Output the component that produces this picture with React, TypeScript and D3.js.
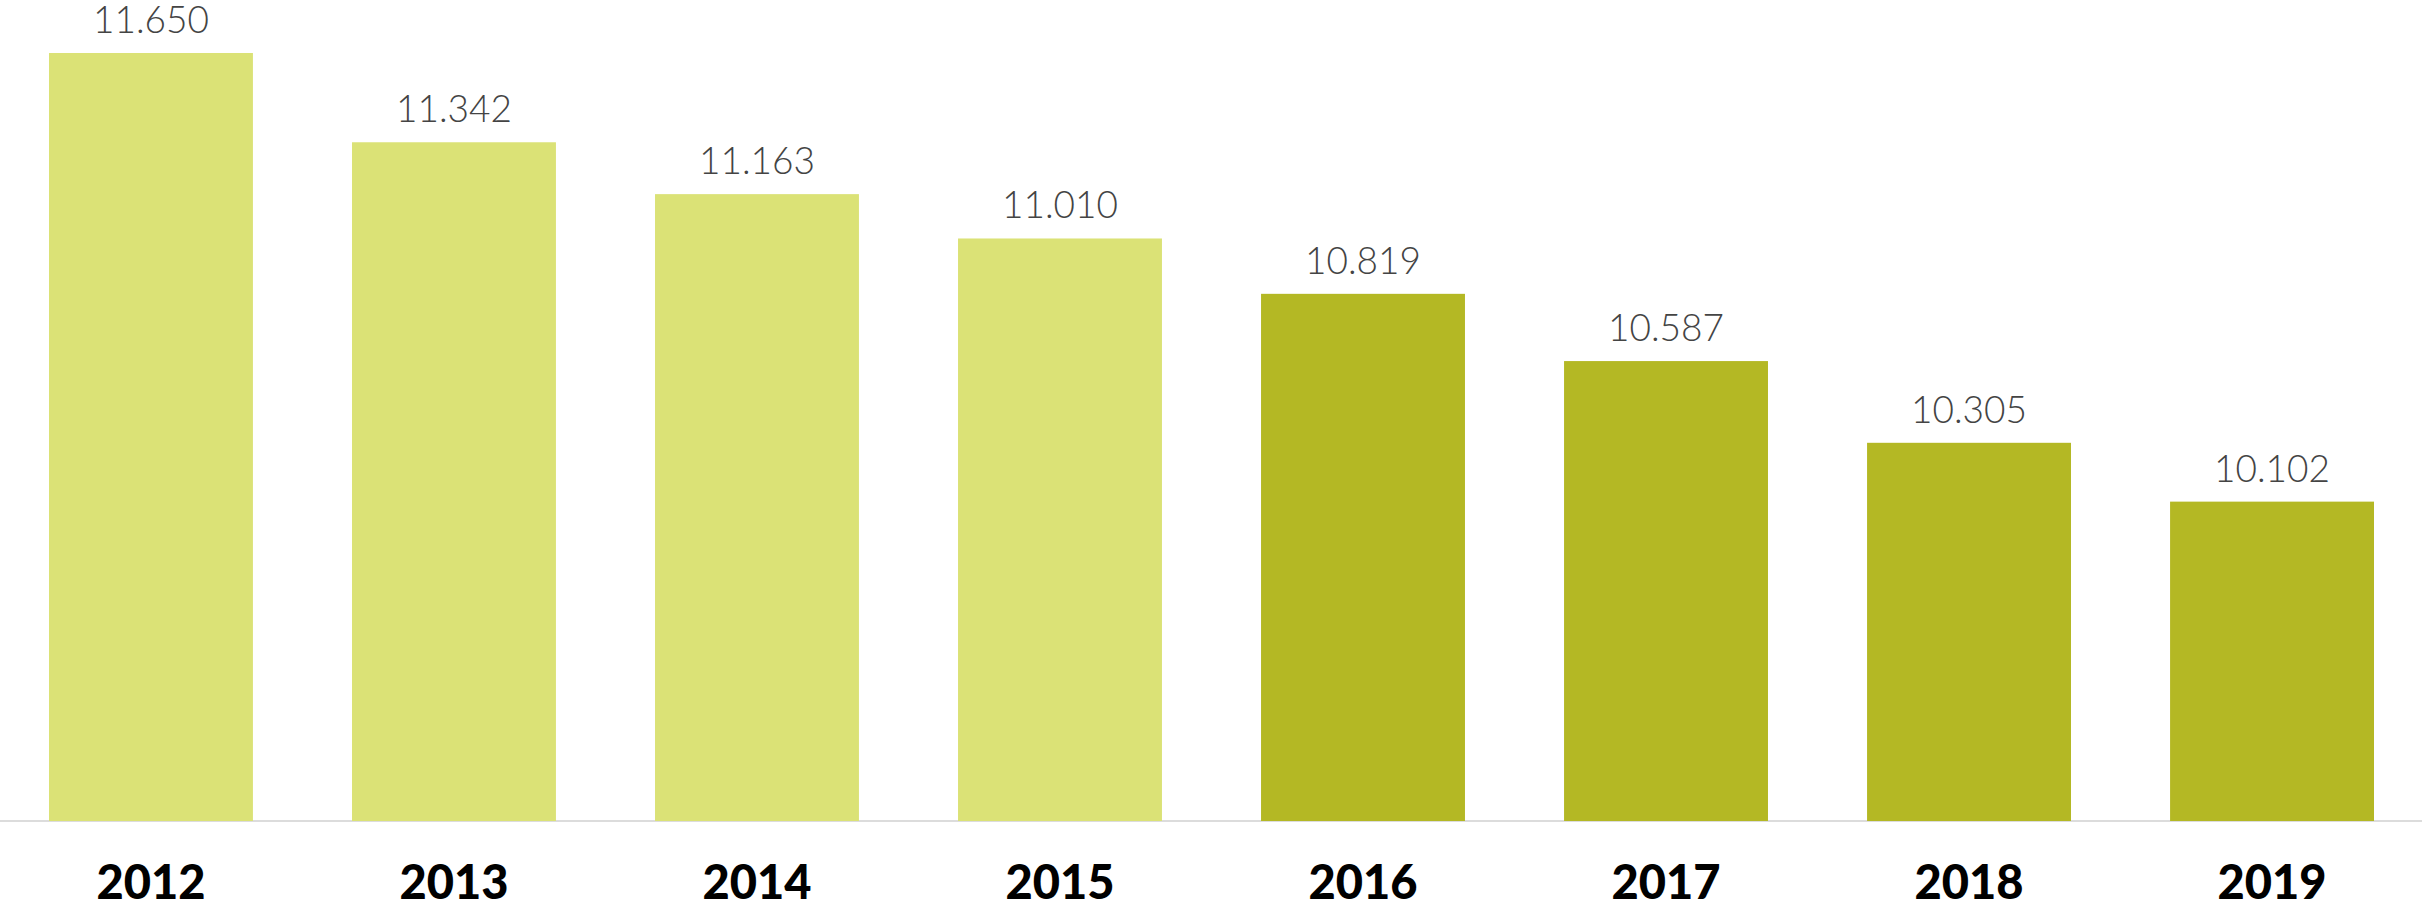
import React, { useEffect, useRef } from 'react';
import * as d3 from 'd3';

const years = ['2012', '2013', '2014', '2015', '2016', '2017', '2018', '2019'];
const values = [11650, 11342, 11163, 11010, 10819, 10587, 10305, 10102];
const valueLabels = ['11.650', '11.342', '11.163', '11.010', '10.819', '10.587', '10.305', '10.102'];
// first four years are drawn lighter
const highlight = [false, false, false, false, true, true, true, true];

const width = 2422;
const height = 908;

const App = () => {
  const ref = useRef<SVGSVGElement | null>(null);

  useEffect(() => {
    if (!ref.current) return;
    const svg = d3.select(ref.current);
    svg.selectAll('*').remove();

    const baseY = 821;

    const x = d3.scaleBand<string>()
      .domain(years)
      .range([49, 2374])
      .paddingInner(0.327)
      .paddingOuter(0);

    const y = d3.scaleLinear()
      .domain([9000, 11650])
      .range([baseY, 53]);

    const data = years.map((yr, i) => ({ yr, v: values[i], label: valueLabels[i], hi: highlight[i] }));

    svg.append('line')
      .attr('x1', 0)
      .attr('x2', width)
      .attr('y1', baseY)
      .attr('y2', baseY)
      .attr('stroke', '#dcdcdc')
      .attr('stroke-width', 2);

    svg.selectAll('.bar')
      .data(data)
      .enter().append('rect')
      .attr('class', 'bar')
      .attr('x', d => x(d.yr)!)
      .attr('width', x.bandwidth())
      .attr('y', d => y(d.v))
      .attr('height', d => baseY - y(d.v))
      .attr('fill', d => (d.hi ? '#b4b824' : '#dbe276'));

    svg.selectAll('.val')
      .data(data)
      .enter().append('text')
      .attr('class', 'val')
      .attr('x', d => x(d.yr)! + x.bandwidth() / 2)
      .attr('y', d => y(d.v) - 20)
      .attr('text-anchor', 'middle')
      .style('font-family', 'Lato, sans-serif')
      .style('font-weight', 300)
      .style('font-size', '37px')
      .style('fill', '#444')
      .text(d => d.label);

    svg.selectAll('.yr')
      .data(data)
      .enter().append('text')
      .attr('class', 'yr')
      .attr('x', d => x(d.yr)! + x.bandwidth() / 2)
      .attr('y', 899)
      .attr('text-anchor', 'middle')
      .style('font-family', 'Lato, sans-serif')
      .style('font-weight', 900)
      .style('font-size', '47px')
      .style('fill', '#000')
      .text(d => d.yr);
  }, []);

  return (
    <svg
      ref={ref}
      width={width}
      height={height}
      style={{ position: 'absolute', left: 0, top: 0, background: '#fff' }}
    />
  );
};

export default App;
